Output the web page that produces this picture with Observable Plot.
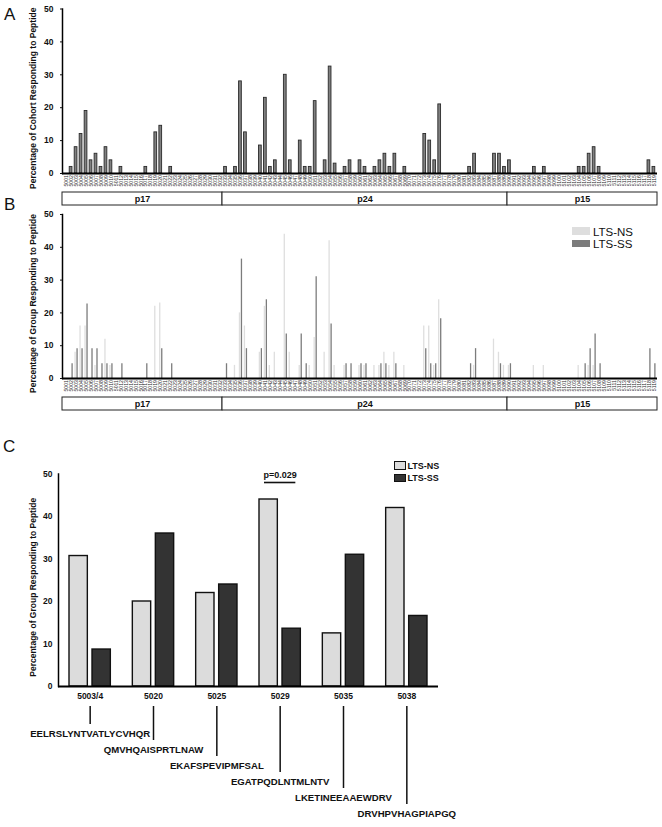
<!DOCTYPE html>
<html><head><meta charset="utf-8">
<script src="https://cdn.jsdelivr.net/npm/d3@7"></script>
<script src="https://cdn.jsdelivr.net/npm/@observablehq/plot@0.6"></script>
<style>
body{margin:0;background:#fff;}
#fig{position:relative;width:662px;height:827px;overflow:hidden;background:#fff;font-family:"Liberation Sans",Arial,sans-serif;color:#111;}
#fig > *{position:absolute;}
.letter{font-size:17px;line-height:17px;}
.legB{font-size:11.5px;line-height:12px;}
.legC{font-size:9px;line-height:10px;font-weight:bold;}
</style></head><body><div id="fig"></div>
<script>
// ---------- data ----------
const peptideIds = [
5001,5002,5003,5004,5005,5006,5007,5008,5009,5010,
5011,5012,5013,5014,5015,5016,5017,5018,5019,5020,
5021,5022,5023,5024,5025,5026,5027,5028,5029,5030,
5031,5032,5033,5034,5035,5036,5037,5038,5039,5040,
5041,5042,5043,5044,5045,5046,5047,5048,5049,5050,
5051,5052,5053,5054,5055,5056,5057,5058,5059,5060,
5061,5062,5063,5064,5065,5066,5067,5068,5069,5070,
5071,5072,5073,5074,5075,5076,5077,5078,5079,5080,
5081,5082,5083,5084,5085,5086,5087,5088,5089,5090,
5091,5092,5093,5094,5095,5096,5097,5098,5099,5100,
5101,5102,5103,5104,5105,5106,5107,5108,5109,5110,
5111,5112,5113,5114,5115,5116,5117,5118,5119];
// Panel A: % of whole cohort responding
const cohortPct = [
0,2,8,12,19,4,6,2,8,4,
0,2,0,0,0,0,2,0,12.5,14.5,
0,2,0,0,0,0,0,0,0,0,
0,0,2,0,2,28,12.5,0,0,8.5,
23,2,4,0,30,4,0,10,2,2,
22,0,4,32.5,3,0,2,4,0,4,
2,0,2,4,6,2,6,0,2,0,
0,0,12,10,4,21,0,0,0,0,
0,2,6,0,0,0,6,6,2,4,
0,0,0,0,2,0,2,0,0,0,
0,0,0,2,2,6,8,2,0,0,
0,0,0,0,0,0,0,4,2];
// Panel B: LTS-NS group
const nsPct = [
0,0,8,16,16,0,4,0,12,4,
0,0,0,0,0,0,0,0,22,23,
0,0,0,0,0,0,0,0,0,0,
0,0,0,0,4,20,16,0,0,8,
22,4,8,0,44,8,0,4,0,4,
12.5,0,8,42,4,0,4,0,0,4,
4,0,4,4,8,4,8,0,4,0,
0,0,16,16,4,24,0,0,0,0,
0,0,4,0,0,0,12,8,4,4,
0,0,0,0,4,0,4,0,0,0,
0,0,0,4,0,4,4,0,0,0,
0,0,0,0,0,0,0,0,0];
// Panel B: LTS-SS group
const ssPct = [
0,4.5,9.1,9.1,22.7,9.1,9.1,4.5,4.5,4.5,
0,4.5,0,0,0,0,4.5,0,0,9.1,
0,4.5,0,0,0,0,0,0,0,0,
0,0,4.5,0,0,36.4,9.1,0,0,9.1,
24,0,0,0,13.6,0,0,13.6,4.5,0,
31,0,0,16.6,0,0,4.5,4.5,0,4.5,
4.5,0,0,4.5,4.5,0,4.5,0,0,0,
0,0,9.1,4.5,4.5,18.2,0,0,0,0,
0,4.5,9.1,0,0,0,0,4.5,0,4.5,
0,0,0,0,0,0,0,0,0,0,
0,0,0,0,4.5,9.1,13.6,4.5,0,0,
0,0,0,0,0,0,0,9.1,4.5];
const proteins = ["p17","p24","p15"];
const proteinStart = [0,32,89];
const proteinEnd = [32,89,119];
const yTicks = [0,10,20,30,40,50];
const seriesNames = ["LTS-NS","LTS-SS"];
// Panel C
const selPeptides = ["5003/4","5020","5025","5029","5035","5038"];
const selNS = [30.7,20,22,44,12.5,42];
const selSS = [8.7,36,24,13.6,31,16.6];
const selSeq = ["EELRSLYNTVATLYCVHQR","QMVHQAISPRTLNAW","EKAFSPEVIPMFSAL","EGATPQDLNTMLNTV","LKETINEEAAEWDRV","DRVHPVHAGPIAPGQ"];
const pTests = [{peptide:"5029", label:"p=0.029"}];

// ---------- styles ----------
const FONT = "Liberation Sans, Arial, Helvetica, sans-serif";
const colA = {fill:"#808080", stroke:"#2a2a2a"};
const colB = {ns:"#dedede", ss:"#7c7c7c"};
const colC = {ns:"#dcdcdc", ss:"#333333"};
const W = 662;
const fig = document.getElementById("fig");
const baseStyle = {fontFamily: FONT, fontSize: "8.5px", color:"#111", background:"transparent", overflow:"visible"};

const peptides = peptideIds.map((id,i)=>({id:String(id), cohort:cohortPct[i], ns:nsPct[i], ss:ssPct[i]}));
const idDomain = peptideIds.map(String);
const proteinRows = proteins.map((p,i)=>({name:p, start:proteinStart[i], end:proteinEnd[i]}));

function place(el, left, top){ el.style.left = left+"px"; el.style.top = top+"px"; fig.appendChild(el); return el; }
function div(cls, text, left, top, extra){ const d=document.createElement("div"); if(cls) d.className=cls; if(text!=null) d.textContent=text; if(extra) Object.assign(d.style, extra); return place(d,left,top); }

function peptidePanel(barMarks, yLabel, mTop, h){
  return Plot.plot({
    width: W, height: h, marginTop: mTop, marginBottom: 17, marginLeft: 62, marginRight: 5,
    style: baseStyle,
    x: {type:"band", domain: idDomain, padding: 0.45, round: false},
    y: {domain: [0,50]},
    marks: [
      ...barMarks,
      Plot.ruleY([0], {stroke:"#000", strokeWidth:2}),
      Plot.frame({anchor:"left", stroke:"#000", strokeWidth:1.5}),
      Plot.axisY(yTicks, {tickSize:2, tickPadding:7, label:null, fontWeight:"bold", fontSize:8.5, fill:"#111"}),
      Plot.axisX(idDomain, {tickRotate:-90, tickSize:0, tickPadding:1.5, label:null, fontSize:5.2, fill:"#2a2a2a"}),
      Plot.text([yLabel], {text:d=>d, frameAnchor:"left", textAnchor:"middle", rotate:-90, dx:-29, dy:7, fontWeight:"bold", fontSize:8.5, fill:"#111"})
    ]
  });
}
function proteinBox(){
  return Plot.plot({
    width: W, height: 15, marginTop:1, marginBottom:1, marginLeft:62, marginRight:5,
    style: baseStyle,
    x: {domain:[0, peptideIds.length], axis:null},
    marks: [
      Plot.rect(proteinRows, {x1:"start", x2:"end", fill:"white", stroke:"#222", strokeWidth:1}),
      Plot.text(proteinRows, {x:d=>(d.start+d.end)/2, text:"name", frameAnchor:"middle", fontWeight:"bold", fontSize:9, fill:"#111"})
    ]
  });
}

// ---------- Panel A ----------
div("letter","A",4,6);
place(peptidePanel([
  Plot.barY(peptides, {filter:d=>d.cohort>0, x:"id", y:"cohort", fill:colA.fill, stroke:colA.stroke, strokeWidth:0.9})
], "Percentage of Cohort Responding to Peptide", 8.5, 190), 0, 0);
place(proteinBox(), 0, 191);

// ---------- Panel B ----------
div("letter","B",4,196);
place(peptidePanel([
  Plot.ruleX(peptides, {filter:d=>d.ns>0, x:"id", y1:0, y2:"ns", stroke:colB.ns, strokeWidth:1.3, dx:-1}),
  Plot.ruleX(peptides, {filter:d=>d.ss>0, x:"id", y1:0, y2:"ss", stroke:colB.ss, strokeWidth:1.3, dx:1})
], "Percentage of Group Responding to Peptide", 14, 195), 0, 200);
place(proteinBox(), 0, 396);
seriesNames.forEach((s,i)=>{
  div(null,null,572,227+i*12.5,{width:"18px",height:"7.5px",background:i?colB.ss:colB.ns});
  div("legB",s,593,225.5+i*12.5);
});

// ---------- Panel C ----------
div("letter","C",3,438);
const sel = selPeptides.map((p,i)=>({peptide:p, ns:selNS[i], ss:selSS[i], seq:selSeq[i]}));
const pRows = pTests.map(t=>{ const i=selPeptides.indexOf(t.peptide); return {...t, top:Math.max(selNS[i],selSS[i])+4}; });
place(Plot.plot({
  width: W, height: 242, marginTop: 13.5, marginBottom: 16, marginLeft: 58, marginRight: 224,
  style: baseStyle,
  x: {type:"band", domain: selPeptides, padding: 0, round:false},
  y: {domain: [0,50]},
  marks: [
    Plot.barY(sel, {x:"peptide", y:"ns", insetLeft:11, insetRight:34, fill:colC.ns, stroke:"#111", strokeWidth:1.4}),
    Plot.barY(sel, {x:"peptide", y:"ss", insetLeft:34, insetRight:11, fill:colC.ss, stroke:"#111", strokeWidth:1.4}),
    Plot.ruleY([0], {stroke:"#000", strokeWidth:2}),
    Plot.frame({anchor:"left", stroke:"#000", strokeWidth:1.5}),
    Plot.axisY(yTicks, {tickSize:0, tickPadding:6, label:null, fontWeight:"bold", fontSize:8.5, fill:"#111"}),
    Plot.axisX({tickSize:0, tickPadding:6, label:null, fontWeight:"bold", fontSize:8.5, fill:"#111"}),
    Plot.tickY(pRows, {x:"peptide", y:"top", insetLeft:16, insetRight:16, stroke:"#111", strokeWidth:1.6}),
    Plot.text(pRows, {x:"peptide", y:"top", text:"label", dy:-7, fontWeight:"bold", fontSize:9, fill:"#111"}),
    Plot.text(["Percentage of Group Responding to Peptide"], {text:d=>d, frameAnchor:"left", textAnchor:"middle", rotate:-90, dx:-25, dy:7, fontWeight:"bold", fontSize:8.5, fill:"#111"})
  ]
}), 0, 460);
seriesNames.forEach((s,i)=>{
  div(null,null,393.5,461+i*12.5,{width:"12.5px",height:"8.5px",boxSizing:"border-box",border:"1.5px solid #111",background:i?colC.ss:colC.ns});
  div("legC",s,407.5,460.5+i*12.5);
});
// sequence call-outs: each line runs from under the axis labels down to its sequence row
place(Plot.plot({
  width: W, height: 125, marginTop: 4, marginBottom: 0, marginLeft: 58, marginRight: 224,
  style: baseStyle,
  x: {type:"band", domain: selPeptides, padding: 0, round:false, axis:null},
  y: {type:"point", domain: selPeptides, range:[14,110], axis:null},
  marks: [
    Plot.ruleX(sel, {x:"peptide", y1:null, y2:"peptide", stroke:"#111", strokeWidth:1.5}),
    Plot.text(sel, {x:"peptide", y:"peptide", text:"seq", dy:9, fontWeight:"bold", fontSize:9.6, fill:"#111"})
  ]
}), 0, 702);
</script>
</body></html>
